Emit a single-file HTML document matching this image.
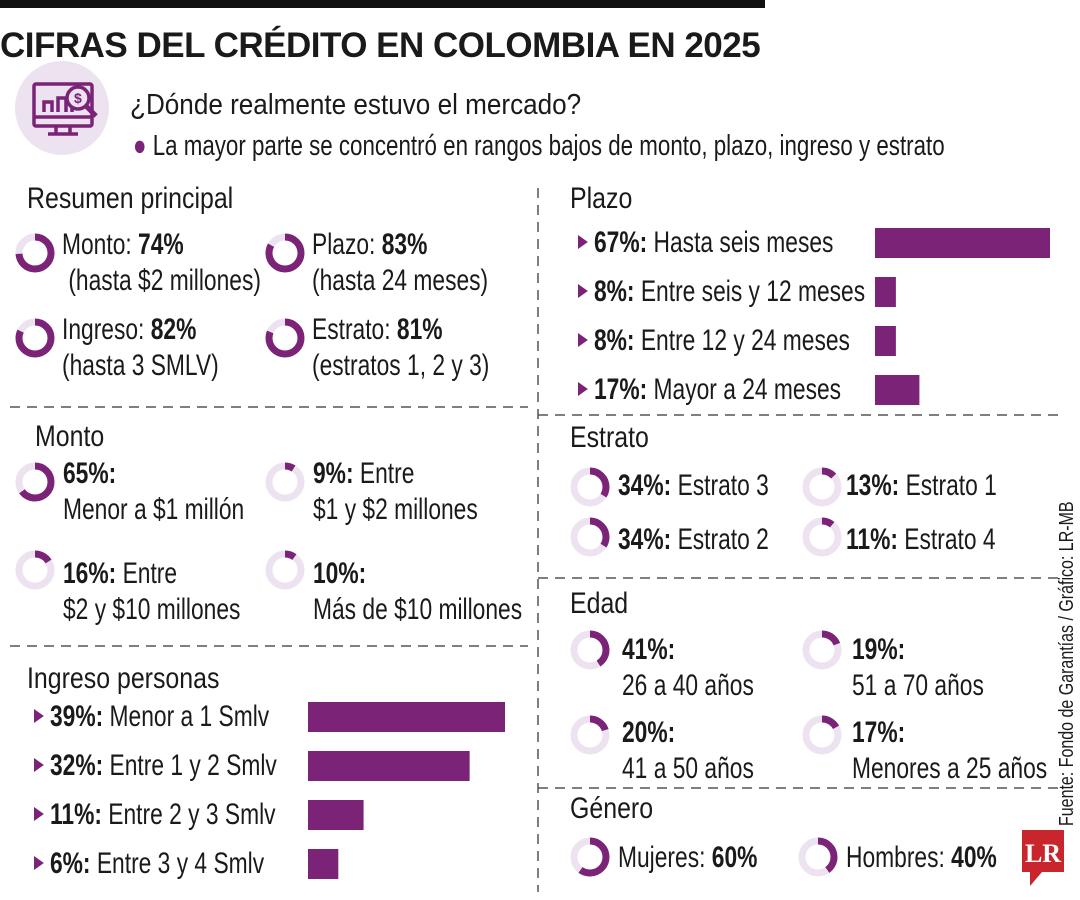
<!DOCTYPE html>
<html><head><meta charset="utf-8">
<style>
body{margin:0;width:1080px;height:900px;background:#fff;overflow:hidden;position:relative;font-family:"Liberation Sans Narrow","Liberation Sans",sans-serif;color:#1a1a1a}
.t{position:absolute;white-space:nowrap;font-size:30px;line-height:36px;transform-origin:0 0;transform:scaleX(0.76)}
b{font-weight:bold}
.h{font-size:30px;transform:scaleX(0.83)}
.tri{display:inline-block;width:0;height:0;border-left:13px solid #7a2377;border-top:7px solid transparent;border-bottom:7px solid transparent;margin-right:8px;vertical-align:3px}
svg{position:absolute;left:0;top:0}
</style></head><body>
<div style="position:absolute;left:0;top:0;width:765px;height:8px;background:#111"></div>
<div class="t" style="left:0;top:26px;font-size:35px;line-height:40px;font-weight:bold;letter-spacing:-0.5px;transform:none">CIFRAS DEL CRÉDITO EN COLOMBIA EN 2025</div>
<svg width="1080" height="900" id="g">
 <circle cx="62" cy="108" r="47" fill="#ede3f0"/>
 <g fill="none" stroke="#7a2377" stroke-width="3.5">
  <rect x="34" y="84" width="58" height="42" rx="2"/>
  <line x1="34" y1="117" x2="92" y2="117"/>
  <path d="M56 126 v8 h-8 h30 M70 126 v8"/>
  <path d="M44 112 v-10 h8 v10 M58 112 v-14 h8 v14 M72 112 v-8"/>
  <circle cx="78" cy="98" r="11" fill="#ede3f0"/>
  <line x1="86" y1="106" x2="96" y2="116" stroke-width="5"/>
 </g>
 <text x="74" y="103" font-size="14" fill="#7a2377" font-weight="bold" font-family="Liberation Sans">$</text>
 <g stroke="#555" stroke-width="1.5" stroke-dasharray="10,7">
  <line x1="538" y1="188" x2="538" y2="892"/>
  <line x1="10" y1="407" x2="528" y2="407"/>
  <line x1="10" y1="646" x2="528" y2="646"/>
  <line x1="538" y1="415" x2="1058" y2="415"/>
  <line x1="538" y1="578" x2="1058" y2="578"/>
  <line x1="538" y1="788" x2="1058" y2="788"/>
 </g>
 <rect x="1022" y="830" width="42" height="42" fill="#c8252c"/>
 <path d="M1030 872 v14 l12 -14z" fill="#c8252c"/>
 <text x="1043" y="862" font-size="26" font-weight="bold" fill="#fff" text-anchor="middle" font-family="Liberation Serif">LR</text>
</svg>
<div class="t" style="left:130px;top:87px;font-size:29px;transform:scaleX(0.9)">¿Dónde realmente estuvo el mercado?</div>
<div class="t" style="left:133px;top:128px;font-size:29px;transform:scaleX(0.77)"><span style="color:#7a2377">●</span> La mayor parte se concentró en rangos bajos de monto, plazo, ingreso y estrato</div>
<div class="t h" style="left:27px;top:181px">Resumen principal</div>
<div class="t h" style="left:35px;top:419px">Monto</div>
<div class="t h" style="left:27px;top:661px">Ingreso personas</div>
<div class="t h" style="left:570px;top:181px">Plazo</div>
<div class="t h" style="left:570px;top:420px">Estrato</div>
<div class="t h" style="left:570px;top:586px">Edad</div>
<div class="t h" style="left:570px;top:791px">Género</div>

<div class="t" style="left:62px;top:227px">Monto: <b>74%</b><br>&nbsp;(hasta $2 millones)</div>
<div class="t" style="left:312px;top:227px">Plazo: <b>83%</b><br>(hasta 24 meses)</div>
<div class="t" style="left:62px;top:312px">Ingreso: <b>82%</b><br>(hasta 3 SMLV)</div>
<div class="t" style="left:312px;top:312px">Estrato: <b>81%</b><br>(estratos 1, 2 y 3)</div>

<div class="t" style="left:63px;top:456px"><b>65%:</b><br>Menor a $1 millón</div>
<div class="t" style="left:313px;top:456px"><b>9%:</b> Entre<br>$1 y $2 millones</div>
<div class="t" style="left:63px;top:556px"><b>16%:</b> Entre<br>$2 y $10 millones</div>
<div class="t" style="left:313px;top:556px"><b>10%:</b><br>Más de $10 millones</div>

<div class="t" style="left:618px;top:468px"><b>34%:</b> Estrato 3</div>
<div class="t" style="left:846px;top:468px"><b>13%:</b> Estrato 1</div>
<div class="t" style="left:618px;top:522px"><b>34%:</b> Estrato 2</div>
<div class="t" style="left:846px;top:522px"><b>11%:</b> Estrato 4</div>

<div class="t" style="left:622px;top:632px"><b>41%:</b><br>26 a 40 años</div>
<div class="t" style="left:852px;top:632px"><b>19%:</b><br>51 a 70 años</div>
<div class="t" style="left:622px;top:715px"><b>20%:</b><br>41 a 50 años</div>
<div class="t" style="left:852px;top:715px"><b>17%:</b><br>Menores a 25 años</div>

<div class="t" style="left:618px;top:840px">Mujeres: <b>60%</b></div>
<div class="t" style="left:846px;top:840px">Hombres: <b>40%</b></div>

<div class="t" style="left:1057px;top:826px;font-size:20px;line-height:20px;transform:rotate(-90deg) scaleX(0.8)">Fuente: Fondo de Garantías / Gráfico: LR-MB</div>

<script>
const plazoLabels=["Hasta seis meses","Entre seis y 12 meses","Entre 12 y 24 meses","Mayor a 24 meses"];
const plazoValues=[67,8,8,17];
const ingresoLabels=["Menor a 1 Smlv","Entre 1 y 2 Smlv","Entre 2 y 3 Smlv","Entre 3 y 4 Smlv"];
const ingresoValues=[39,32,11,6];
const resumenValues=[74,83,82,81];
const montoValues=[65,9,16,10];
const estratoValues=[34,13,34,11];
const edadValues=[41,19,20,17];
const generoValues=[60,40];

const svg=document.getElementById('g');
const NS='http://www.w3.org/2000/svg';
const P='#7a2377';
function donut(cx,cy,v,name){
  const r=16,c=2*Math.PI*r;
  const bg=document.createElementNS(NS,'circle');
  bg.setAttribute('cx',cx);bg.setAttribute('cy',cy);bg.setAttribute('r',r);
  bg.setAttribute('fill','none');bg.setAttribute('stroke','#ede3f0');bg.setAttribute('stroke-width',7);
  svg.appendChild(bg);
  const a=document.createElementNS(NS,'circle');
  a.setAttribute('cx',cx);a.setAttribute('cy',cy);a.setAttribute('r',r);
  a.setAttribute('fill','none');a.setAttribute('stroke',P);a.setAttribute('stroke-width',7);
  a.setAttribute('stroke-dasharray',(c*v/100)+' '+c);
  a.setAttribute('transform','rotate(-90 '+cx+' '+cy+')');
  
  
  svg.appendChild(a);
}
const resPos=[[35,253],[285,253],[35,338],[285,338]];
resumenValues.forEach((v,i)=>donut(resPos[i][0],resPos[i][1],v,'resumen-donut'));
const monPos=[[35,482],[285,482],[35,570],[285,570]];
montoValues.forEach((v,i)=>donut(monPos[i][0],monPos[i][1],v,'monto-donut'));
const estPos=[[590,487],[822,487],[590,537],[822,537]];
estratoValues.forEach((v,i)=>donut(estPos[i][0],estPos[i][1],v,'estrato-donut'));
const edPos=[[590,650],[822,650],[590,735],[822,735]];
edadValues.forEach((v,i)=>donut(edPos[i][0],edPos[i][1],v,'edad-donut'));
const genPos=[[590,857],[818,857]];
generoValues.forEach((v,i)=>donut(genPos[i][0],genPos[i][1],v,'genero-donut'));

function bars(labels,vals,x0,scale,y0,step,tx,name){
  vals.forEach((v,i)=>{
    const y=y0+i*step;
    const r=document.createElementNS(NS,'rect');
    r.setAttribute('x',x0);r.setAttribute('y',y);r.setAttribute('width',v*scale);r.setAttribute('height',30);r.setAttribute('fill',P);
    
    
    svg.appendChild(r);
    const d=document.createElement('div');
    d.className='t';d.style.left=tx+'px';d.style.top=(y-3)+'px';
    d.innerHTML='<span class="tri"></span><b>'+v+'%:</b> '+labels[i];
    
    
    document.body.appendChild(d);
  });
}
bars(plazoLabels,plazoValues,875,175/67,228,49,578,'plazo');
bars(ingresoLabels,ingresoValues,308,197/39,702,49,34,'ingreso');
</script>
</body></html>
